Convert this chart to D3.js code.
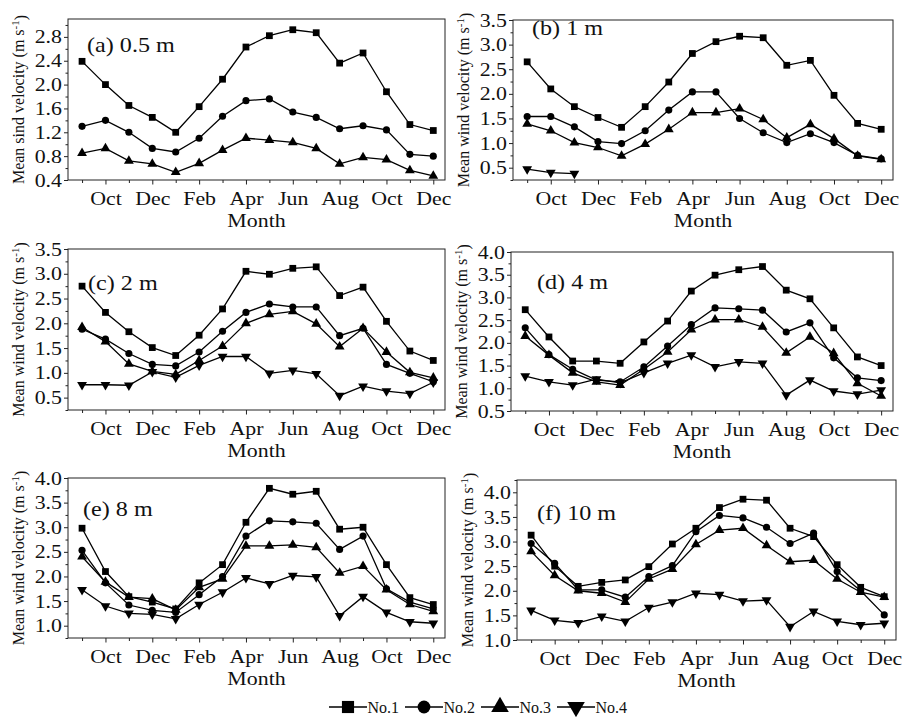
<!DOCTYPE html>
<html>
<head>
<meta charset="utf-8">
<script src="https://cdnjs.cloudflare.com/ajax/libs/d3/7.8.5/d3.min.js"></script>
<style>
  body { margin: 0; background: #fff; }
  svg text { font-family: "Liberation Serif", "Times New Roman", serif; fill: #111; }
</style>
</head>
<body>
<svg id="chart" width="903" height="717"></svg>
<script>
//////////////////////////////////////////////////////////////////////////////////////////
// DATA //////////////////////////////////////////////////////////////////////////////////
//////////////////////////////////////////////////////////////////////////////////////////

var months = ["Sep","Oct","Nov","Dec","Jan","Feb","Mar","Apr","May","Jun","Jul","Aug","Sep","Oct","Nov","Dec"];
var labelledMonths = [1, 3, 5, 7, 9, 11, 13, 15];   // Oct, Dec, Feb ... Dec get a label
var seriesNames = ["No.1", "No.2", "No.3", "No.4"];
var panelTitles = ["(a) 0.5 m", "(b) 1 m", "(c) 2 m", "(d) 4 m", "(e) 8 m", "(f) 10 m"];

// mean wind velocity, m/s (null = no value)
var h05_no1 = [2.39,2.00,1.65,1.45,1.20,1.63,2.09,2.63,2.82,2.92,2.87,2.36,2.53,1.88,1.33,1.23];
var h05_no2 = [1.30,1.40,1.20,0.93,0.87,1.10,1.47,1.73,1.76,1.54,1.45,1.26,1.31,1.24,0.83,0.80];
var h05_no3 = [0.85,0.93,0.72,0.67,0.53,0.68,0.90,1.10,1.07,1.03,0.93,0.67,0.78,0.74,0.56,0.47];

var h1_no1 = [2.65,2.10,1.74,1.52,1.32,1.74,2.24,2.82,3.06,3.17,3.14,2.58,2.68,1.97,1.40,1.28];
var h1_no2 = [1.54,1.54,1.33,1.03,0.99,1.25,1.67,2.04,2.04,1.50,1.21,1.01,1.19,1.01,0.75,0.68];
var h1_no3 = [1.39,1.25,1.01,0.91,0.74,0.98,1.28,1.62,1.62,1.70,1.48,1.11,1.38,1.09,0.74,0.67];
var h1_no4 = [0.47,0.40,0.38,null,null,null,null,null,null,null,null,null,null,null,null,null];

var h2_no1 = [2.75,2.22,1.83,1.51,1.35,1.76,2.29,3.05,2.99,3.11,3.14,2.56,2.73,2.04,1.44,1.25];
var h2_no2 = [1.88,1.68,1.39,1.17,1.14,1.42,1.84,2.22,2.39,2.33,2.33,1.75,1.90,1.17,0.99,0.82];
var h2_no3 = [1.92,1.63,1.18,1.03,0.97,1.25,1.54,2.00,2.18,2.24,1.99,1.53,1.90,1.42,1.01,0.90];
var h2_no4 = [0.76,0.76,0.75,1.02,0.91,1.15,1.33,1.33,0.99,1.05,0.98,0.54,0.73,0.63,0.58,0.81];

var h4_no1 = [2.73,2.13,1.60,1.60,1.55,2.02,2.48,3.14,3.49,3.61,3.68,3.16,2.97,2.33,1.69,1.50];
var h4_no2 = [2.33,1.74,1.42,1.18,1.14,1.47,1.93,2.40,2.77,2.75,2.72,2.24,2.44,1.67,1.23,1.17];
var h4_no3 = [2.15,1.73,1.34,1.14,1.07,1.42,1.80,2.29,2.51,2.51,2.35,1.78,2.13,1.77,1.11,0.83];
var h4_no4 = [1.27,1.14,1.07,1.20,1.12,1.34,1.55,1.73,1.47,1.58,1.55,0.85,1.18,0.94,0.87,0.96];

var h8_no1 = [2.98,2.10,1.59,1.48,1.34,1.87,2.24,3.10,3.79,3.67,3.73,2.96,3.00,2.24,1.57,1.43];
var h8_no2 = [2.53,1.87,1.42,1.31,1.27,1.63,2.00,2.82,3.13,3.11,3.08,2.55,2.82,1.75,1.48,1.34];
var h8_no3 = [2.40,1.89,1.58,1.55,1.32,1.78,1.95,2.62,2.62,2.64,2.59,2.07,2.21,1.73,1.43,1.29];
var h8_no4 = [1.73,1.40,1.25,1.23,1.14,1.43,1.68,1.97,1.85,2.02,1.99,1.20,1.59,1.27,1.08,1.05];

var h10_no1 = [3.13,2.50,2.09,2.17,2.22,2.49,2.95,3.27,3.69,3.86,3.84,3.27,3.10,2.53,2.07,1.88];
var h10_no2 = [2.96,2.56,2.02,2.02,1.87,2.29,2.51,3.20,3.53,3.48,3.29,2.96,3.17,2.39,2.00,1.51];
var h10_no3 = [2.80,2.31,2.00,1.95,1.77,2.24,2.44,2.94,3.23,3.27,2.92,2.59,2.62,2.24,1.97,1.87];
var h10_no4 = [1.60,1.40,1.35,1.48,1.38,1.66,1.77,1.95,1.92,1.79,1.81,1.27,1.58,1.38,1.31,1.34];

//////////////////////////////////////////////////////////////////////////////////////////
// LAYOUT ////////////////////////////////////////////////////////////////////////////////
//////////////////////////////////////////////////////////////////////////////////////////

// box = [left, top, right, bottom] of the plot frame, lab = offset of the panel title
var panels = [
  { title: panelTitles[0], word: "sind", series: [h05_no1, h05_no2, h05_no3],
    y: [0.4, 3.1], first: 0.4, step: 0.4, box: [68, 19, 445, 180], lab: [19, 33] },
  { title: panelTitles[1], word: "wind", series: [h1_no1, h1_no2, h1_no3, h1_no4],
    y: [0.25, 3.5], first: 0.5, step: 0.5, box: [513, 20, 893, 180], lab: [19, 15] },
  { title: panelTitles[2], word: "wind", series: [h2_no1, h2_no2, h2_no3, h2_no4],
    y: [0.25, 3.5], first: 0.5, step: 0.5, box: [68, 249, 445, 410], lab: [20, 41] },
  { title: panelTitles[3], word: "wind", series: [h4_no1, h4_no2, h4_no3, h4_no4],
    y: [0.5, 4.0], first: 0.5, step: 0.5, box: [511, 252, 893, 411], lab: [26, 37] },
  { title: panelTitles[4], word: "wind", series: [h8_no1, h8_no2, h8_no3, h8_no4],
    y: [0.75, 4.0], first: 1.0, step: 0.5, box: [68, 478, 445, 638], lab: [15, 38] },
  { title: panelTitles[5], word: "wind", series: [h10_no1, h10_no2, h10_no3, h10_no4],
    y: [1.0, 4.25], first: 1.0, step: 0.5, box: [517, 480, 896, 640], lab: [20, 40] }
];

var SX = 1.15;   // the source figure is a bit stretched sideways
var symbolTypes = [d3.symbolSquare, d3.symbolCircle, d3.symbolTriangle, d3.symbolTriangle];
var symbolSizes = [46, 40, 42, 42];

var svg = d3.select("#chart");

function marker(sel, s, scale) {
  sel.attr("d", d3.symbol().type(symbolTypes[s]).size(symbolSizes[s] * (scale || 1)))
     .attr("fill", "#000");
}

function drawPanel(p) {
  var L = p.box[0], T = p.box[1], R = p.box[2], B = p.box[3];
  var x = d3.scaleLinear().domain([-0.6, 15.5]).range([L, R]);
  var y = d3.scaleLinear().domain(p.y).range([B, T]);
  var g = svg.append("g");

  // y ticks: labelled majors and one unlabelled minor between them
  var majors = d3.range(p.first, p.y[1] + 1e-6, p.step);
  var minors = d3.range(p.first - p.step / 2, p.y[1] + 1e-6, p.step)
    .filter(function(v) { return v >= p.y[0] - 1e-6; });

  var yMinor = g.append("g").attr("transform", "translate(" + L + ",0)")
    .call(d3.axisLeft(y).tickValues(minors).tickSize(2.5).tickFormat(""));
  var yMajor = g.append("g").attr("transform", "translate(" + L + ",0)")
    .call(d3.axisLeft(y).tickValues(majors).tickSize(4).tickPadding(2).tickFormat(d3.format(".1f")));
  yMajor.selectAll("text")
    .attr("x", 0).attr("transform", "translate(-6,0) scale(" + SX + ",1)")
    .style("font-size", "19px");

  // x ticks: every month, label on every second one
  var xMinor = g.append("g").attr("transform", "translate(0," + B + ")")
    .call(d3.axisBottom(x).tickValues(d3.range(0, 16, 2)).tickSize(3).tickFormat(""));
  var xMajor = g.append("g").attr("transform", "translate(0," + B + ")")
    .call(d3.axisBottom(x).tickValues(labelledMonths).tickSize(4.5).tickPadding(7)
      .tickFormat(function(i) { return months[i]; }));
  xMajor.selectAll("text").attr("transform", "scale(" + SX + ",1)").style("font-size", "19px");

  [yMinor, yMajor, xMinor, xMajor].forEach(function(a) {
    a.select(".domain").remove();
    a.selectAll("line").attr("stroke", "#222");
  });

  // frame
  g.append("rect").attr("x", L).attr("y", T).attr("width", R - L).attr("height", B - T)
    .attr("fill", "none").attr("stroke", "#222").attr("stroke-width", 1);

  // series
  var line = d3.line()
    .defined(function(d) { return d != null; })
    .x(function(d, i) { return x(i); })
    .y(function(d) { return y(d); });

  p.series.forEach(function(vals, s) {
    g.append("path").datum(vals).attr("d", line)
      .attr("fill", "none").attr("stroke", "#000").attr("stroke-width", 1.3);
    g.selectAll(null).data(vals.map(function(v, i) { return [i, v]; })
        .filter(function(d) { return d[1] != null; }))
      .enter().append("path")
      .attr("transform", function(d) {
        return "translate(" + x(d[0]) + "," + y(d[1]) + ")" + (s === 3 ? " rotate(180)" : "");
      })
      .call(marker, s);
  });

  // panel title
  g.append("text")
    .attr("transform", "translate(" + (L + p.lab[0]) + "," + (T + p.lab[1]) + ") scale(" + SX + ",1)")
    .style("font-size", "21px").text(p.title);

  // axis titles
  g.append("text")
    .attr("transform", "translate(" + ((L + R) / 2) + "," + (B + 47) + ") scale(" + SX + ",1)")
    .attr("text-anchor", "middle").style("font-size", "19px").text("Month");

  var yt = g.append("text")
    .attr("transform", "translate(" + (L - 44) + "," + ((T + B) / 2) + ") rotate(-90)")
    .attr("text-anchor", "middle").style("font-size", "16px");
  yt.append("tspan").text("Mean " + p.word + " velocity (m s");
  yt.append("tspan").attr("dy", "-0.45em").style("font-size", "11px").text("-1");
  yt.append("tspan").attr("dy", "0.45em").text(")");
}

panels.forEach(drawPanel);

//////////////////////////////////////////////////////////////////////////////////////////
// LEGEND ////////////////////////////////////////////////////////////////////////////////
//////////////////////////////////////////////////////////////////////////////////////////

var lx = d3.scaleBand().domain(seriesNames).range([329, 633]);
var legend = svg.append("g").attr("transform", "translate(0,707)");
var item = legend.selectAll("g").data(seriesNames).enter().append("g")
  .attr("transform", function(d) { return "translate(" + lx(d) + ",0)"; });
item.append("line").attr("x1", 0).attr("x2", 38).attr("stroke", "#000").attr("stroke-width", 1.3);
item.append("path")
  .attr("transform", function(d, i) { return "translate(19,0)" + (i === 3 ? " rotate(180)" : ""); })
  .each(function(d, i) { d3.select(this).call(marker, i, 3.2); });
item.append("text").attr("x", 38.5).attr("dy", "0.35em").style("font-size", "16px")
  .text(function(d) { return d; });
</script>
</body>
</html>
